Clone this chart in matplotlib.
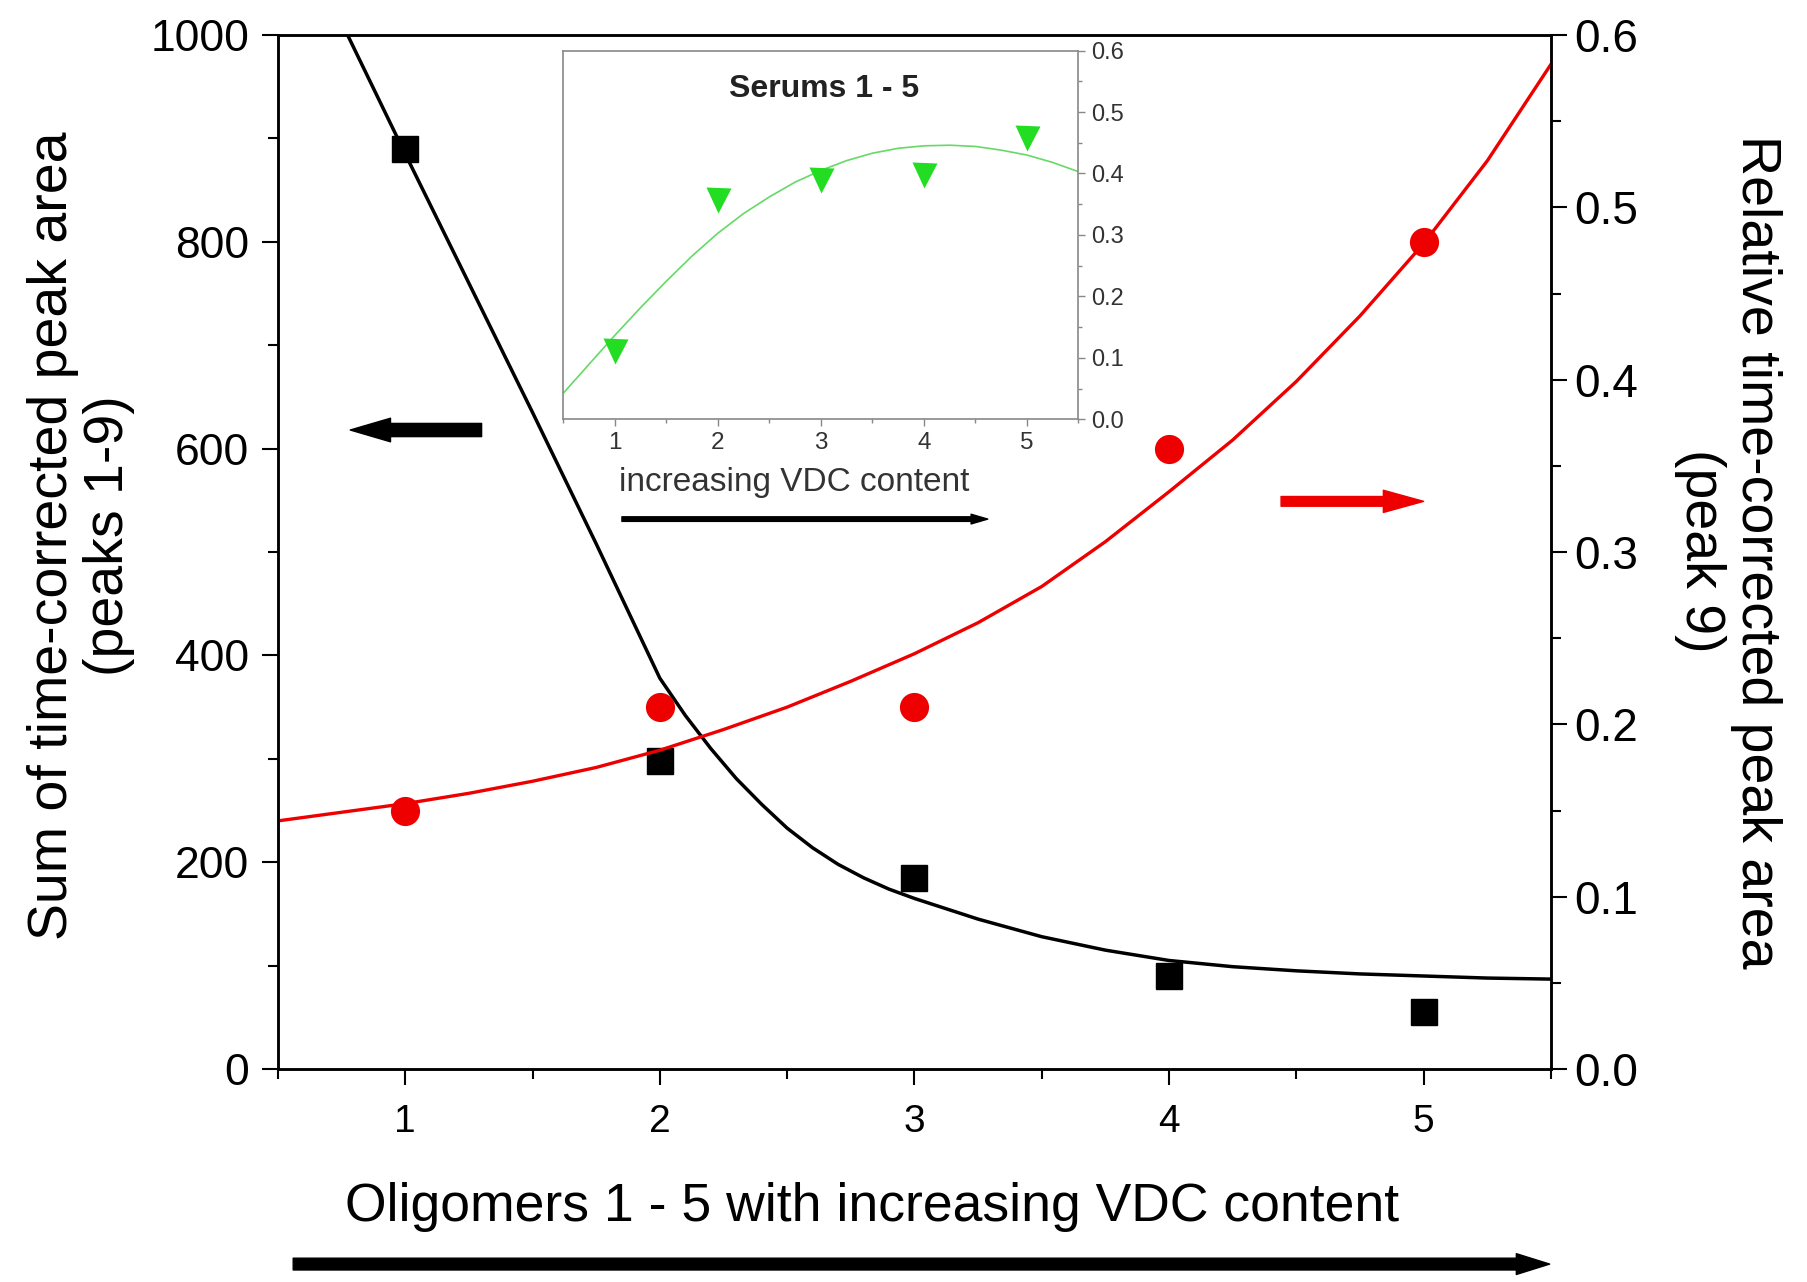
import matplotlib
matplotlib.use("Agg")
import matplotlib.pyplot as plt
from matplotlib.ticker import MultipleLocator, FormatStrFormatter

plt.rcParams['font.family'] = ['Liberation Sans', 'DejaVu Sans']

# measured points, oligomers 1 - 5
oligomer = [1, 2, 3, 4, 5]
peak_sum = [890, 298, 185, 90, 55]            # left axis, black squares
rel_peak9 = [0.15, 0.21, 0.21, 0.36, 0.48]    # right axis, red circles

# fitted curves
black_fit_x = [0.75, 1.0, 1.25, 1.5, 1.75, 2.0, 2.1, 2.2, 2.3, 2.4, 2.5, 2.6,
               2.7, 2.8, 2.9, 3.0, 3.25, 3.5, 3.75, 4.0, 4.25, 4.5, 4.75, 5.0,
               5.25, 5.5]
black_fit_y = [1012, 885, 760, 635, 508, 378, 342, 310, 281, 256, 233, 214,
               198, 185, 174, 165, 145, 128, 115, 105, 99, 95, 92, 90,
               88, 87]
red_fit_x = [0.5, 0.75, 1.0, 1.25, 1.5, 1.75, 2.0, 2.25, 2.5, 2.75, 3.0,
             3.25, 3.5, 3.75, 4.0, 4.25, 4.5, 4.75, 5.0, 5.25, 5.5]
red_fit_y = [0.144, 0.149, 0.154, 0.160, 0.167, 0.175, 0.185, 0.197, 0.210,
             0.225, 0.241, 0.259, 0.280, 0.306, 0.335, 0.365, 0.399, 0.437,
             0.479, 0.527, 0.583]

# inset: serums 1 - 5
serum = [1, 2, 3, 4, 5]
serum_val = [0.111, 0.357, 0.389, 0.397, 0.457]
green_fit_x = [0.5, 0.75, 1.0, 1.25, 1.5, 1.75, 2.0, 2.25, 2.5, 2.75, 3.0,
               3.25, 3.5, 3.75, 4.0, 4.25, 4.5, 4.75, 5.0, 5.25, 5.5]
green_fit_y = [0.043, 0.090, 0.137, 0.182, 0.225, 0.266, 0.303, 0.335, 0.362,
               0.386, 0.405, 0.421, 0.433, 0.441, 0.445, 0.446, 0.444, 0.438,
               0.430, 0.418, 0.403]

RED = '#ee0000'
GREEN = '#22dd22'

fig = plt.figure(figsize=(18.07, 12.82), dpi=100)
ax = fig.add_axes([0.1538, 0.1661, 0.7045, 0.8066])
ax2 = ax.twinx()

ax.plot(black_fit_x, black_fit_y, color='black', lw=2.5, zorder=2)
ax.plot(oligomer, peak_sum, 's', color='black', ms=19, zorder=3)
ax2.plot(red_fit_x, red_fit_y, color=RED, lw=2.4, zorder=2)
ax2.plot(oligomer, rel_peak9, 'o', color=RED, ms=21, mec='none', zorder=3)

ax.set_xlim(0.5, 5.5)
ax.set_ylim(0, 1000)
ax2.set_ylim(0, 0.6)

ax.xaxis.set_major_locator(MultipleLocator(1))
ax.xaxis.set_minor_locator(MultipleLocator(0.5))
ax.yaxis.set_major_locator(MultipleLocator(200))
ax.yaxis.set_minor_locator(MultipleLocator(100))
ax2.yaxis.set_major_locator(MultipleLocator(0.1))
ax2.yaxis.set_minor_locator(MultipleLocator(0.05))
ax2.yaxis.set_major_formatter(FormatStrFormatter('%.1f'))

for a in (ax, ax2):
    for s in a.spines.values():
        s.set_linewidth(1.8)
ax.tick_params(axis='both', which='major', direction='out', length=11.5, width=1.5)
ax.tick_params(axis='both', which='minor', direction='out', length=7, width=1.5)
ax.tick_params(axis='y', labelsize=32, pad=9)
ax.tick_params(axis='x', labelsize=28, pad=14)
ax2.tick_params(axis='y', which='major', direction='out', length=11.5, width=1.5,
                labelsize=33, pad=5)
ax2.tick_params(axis='y', which='minor', direction='out', length=7, width=1.5)

fig.text(0.045, 0.582, "Sum of time-corrected peak area\n(peaks 1-9)", rotation=90,
         ha='center', va='center', multialignment='center', fontsize=40,
         linespacing=1.1)
fig.text(0.9563, 0.570, "Relative time-corrected peak area\n(peak 9)", rotation=270,
         ha='center', va='center', multialignment='center', fontsize=40,
         linespacing=1.1)
fig.text(0.4826, 0.0585, "Oligomers 1 - 5 with increasing VDC content",
         ha='center', va='center', fontsize=38.5)

# arrows
ax.annotate('', xy=(0.784, 618), xytext=(1.30, 618),
            arrowprops=dict(arrowstyle='simple,head_length=29,head_width=17,tail_width=9.5',
                            color='black', shrinkA=0, shrinkB=0, mutation_scale=1))
ax.annotate('', xy=(5.0, 549), xytext=(4.44, 549),
            arrowprops=dict(arrowstyle='simple,head_length=29,head_width=16,tail_width=7',
                            color=RED, shrinkA=0, shrinkB=0, mutation_scale=1))
ax.annotate('', xy=(0.999, -0.1886), xytext=(0.012, -0.1886),
            xycoords='axes fraction', textcoords='axes fraction', annotation_clip=False,
            arrowprops=dict(arrowstyle='simple,head_length=24,head_width=15,tail_width=8.5',
                            color='black', shrinkA=0, shrinkB=0, mutation_scale=1))

# inset
ax_in = fig.add_axes([0.3118, 0.6728, 0.2850, 0.2878])
ax_in.set_facecolor('white')
ax_in.plot(green_fit_x, green_fit_y, color='#66d966', lw=1.2)
ax_in.plot(serum, serum_val, 'v', color=GREEN, ms=18, mec='none')
ax_in.set_xlim(0.5, 5.5)
ax_in.set_ylim(0, 0.6)
ax_in.yaxis.tick_right()
ax_in.xaxis.set_major_locator(MultipleLocator(1))
ax_in.xaxis.set_minor_locator(MultipleLocator(0.5))
ax_in.yaxis.set_major_locator(MultipleLocator(0.1))
ax_in.yaxis.set_minor_locator(MultipleLocator(0.05))
ax_in.yaxis.set_major_formatter(FormatStrFormatter('%.1f'))
for s in ax_in.spines.values():
    s.set_color('#888888')
    s.set_linewidth(1.2)
ax_in.tick_params(axis='both', which='major', direction='out', length=5, width=1,
                  color='#888888', labelcolor='#333333')
ax_in.tick_params(axis='both', which='minor', direction='out', length=3, width=1,
                  color='#888888')
ax_in.tick_params(axis='x', labelsize=17.5, pad=4)
ax_in.tick_params(axis='y', labelsize=17, pad=4)
ax_in.text(0.506, 0.896, "Serums 1 - 5", transform=ax_in.transAxes, ha='center',
           va='center', fontsize=23, fontweight='bold', color='#222222')
ax_in.text(0.4476, -0.172, "increasing VDC content", transform=ax_in.transAxes,
           ha='center', va='center', fontsize=24, color='#333333')
ax_in.annotate('', xy=(0.824, -0.27), xytext=(0.1136, -0.27),
               xycoords='axes fraction', textcoords='axes fraction', annotation_clip=False,
               arrowprops=dict(arrowstyle='simple,head_length=12,head_width=7,tail_width=3.3',
                               color='black', shrinkA=0, shrinkB=0, mutation_scale=1))

fig.savefig("out.png", dpi=100)
